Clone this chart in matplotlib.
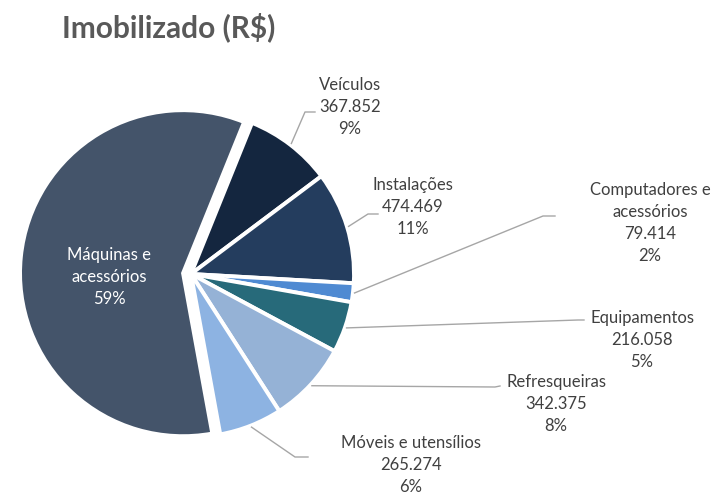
import numpy as np
import matplotlib.pyplot as plt

plt.rcParams['font.family'] = ['Lato', 'DejaVu Sans']

# dados (R$)
categorias = ['Veículos', 'Instalações', 'Computadores e\nacessórios', 'Equipamentos',
              'Refresqueiras', 'Móveis e utensílios', 'Máquinas e\nacessórios']
valores = [367852, 474469, 79414, 216058, 342375, 265274, 2510000]
cores = ['#14263F', '#243D5E', '#4F8AD2', '#276A7A', '#95B2D6', '#8DB3E2', '#44546A']

# posições dos rótulos (pixels da figura, y a partir de baixo)
pos_texto = [(350, 387), (413, 287), (650, 271), (642, 154), (556, 90), (411, 29), (109, 217)]
cotovelos = [[(305, 382), (315, 382)], [(368, 280), (378, 280)], [(543, 278), (555, 278)],
             [(578, 174), (584, 174)], [(495, 107), (500, 108)], [(295, 37), (308, 37)], None]

W, H = 716, 494
fig = plt.figure(figsize=(W / 100, H / 100), dpi=100)
ax = fig.add_axes([0, 0, 1, 1])

centro = (191, 220)
raio = 163
explode = [0, 0, 0, 0, 0, 0, 8]
ax.pie(valores, colors=cores, startangle=68, counterclock=False, radius=raio,
       center=centro, explode=explode,
       wedgeprops=dict(edgecolor='white', linewidth=2.8))
ax.set_xlim(0, W)
ax.set_ylim(0, H)
ax.axis('off')

total = sum(valores)
ang = 68.0
cinza = '#A6A6A6'
for cat, v, pos, cot in zip(categorias, valores, pos_texto, cotovelos):
    frac = v / total
    meio = np.radians(ang - frac * 180)
    ang -= frac * 360
    pct = f'{round(frac * 100):d}%'
    if cot is None:
        ax.text(pos[0], pos[1], f'{cat}\n{pct}', ha='center', va='center',
                color='white', fontsize=12, linespacing=1.45)
        continue
    val = f'{v:,}'.replace(',', '.')
    ax.text(pos[0], pos[1], f'{cat}\n{val}\n{pct}', ha='center', va='center',
            color='#404040', fontsize=12, linespacing=1.45)
    x0 = centro[0] + raio * 1.01 * np.cos(meio)
    y0 = centro[1] + raio * 1.01 * np.sin(meio)
    xs = [x0] + [p[0] for p in cot]
    ys = [y0] + [p[1] for p in cot]
    ax.plot(xs, ys, color=cinza, lw=1.0)

fig.text(62 / W, 1 - 27 / H, 'Imobilizado (R$)', ha='left', va='center',
         fontsize=21.5, fontweight='bold', color='#595959')

fig.savefig('out.png', dpi=100)
